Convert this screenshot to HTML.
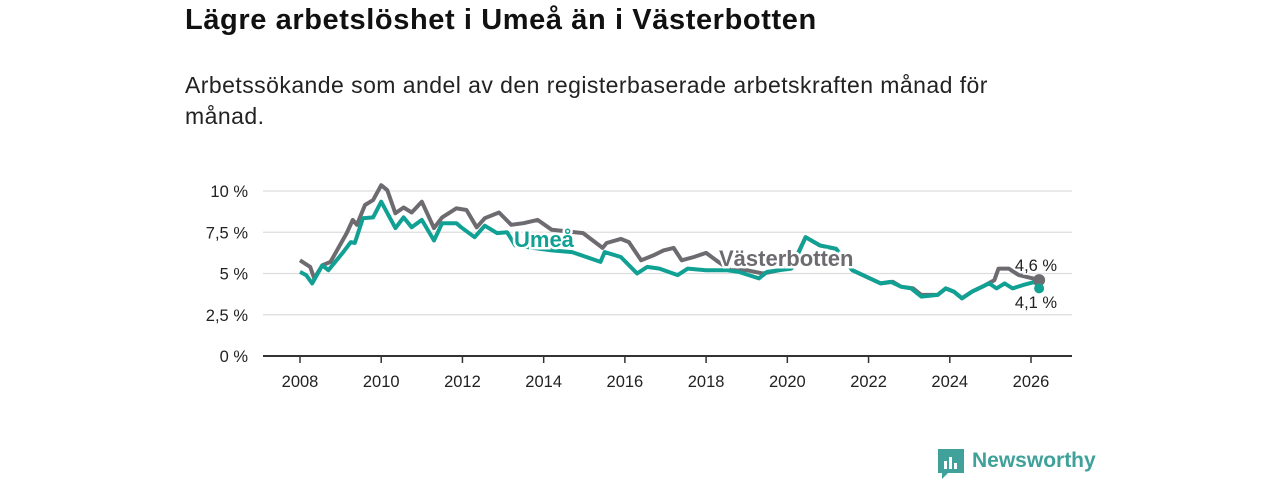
<!DOCTYPE html>
<html><head><meta charset="utf-8"><style>
body{margin:0;width:1280px;height:480px;background:#fff;font-family:"Liberation Sans","DejaVu Sans",sans-serif;overflow:hidden;position:relative}
#title{position:absolute;left:185px;top:4px;font-size:29px;letter-spacing:0.6px;font-weight:bold;color:#111;white-space:nowrap}
#sub{position:absolute;left:185px;top:70px;width:835px;font-size:23px;letter-spacing:0.45px;line-height:31px;color:#222}
svg{position:absolute;left:0;top:0}
</style></head><body>
<div id="title">Lägre arbetslöshet i Umeå än i Västerbotten</div>
<div id="sub">Arbetssökande som andel av den registerbaserade arbetskraften månad för månad.</div>
<svg id="chart" width="1280" height="480"></svg>
<script>
const yTicks=[0,2.5,5,7.5,10];
const yTickLabels=["0 %","2,5 %","5 %","7,5 %","10 %"];
const xTicks=[2008,2010,2012,2014,2016,2018,2020,2022,2024,2026];
const vbDates=[2008.0,2008.25,2008.35,2008.55,2008.75,2009.15,2009.3,2009.4,2009.6,2009.8,2010.0,2010.15,2010.35,2010.55,2010.75,2011.0,2011.3,2011.5,2011.85,2012.1,2012.35,2012.55,2012.9,2013.2,2013.5,2013.85,2014.2,2014.97,2015.45,2015.55,2015.9,2016.1,2016.4,2016.7,2016.95,2017.2,2017.4,2017.7,2018.0,2018.3,2018.6,2019.0,2019.4,2019.8,2020.1,2020.45,2020.8,2021.2,2021.6,2022.3,2022.6,2022.8,2023.1,2023.3,2023.7,2023.9,2024.1,2024.3,2024.55,2024.8,2025.1,2025.2,2025.45,2025.7,2026.05,2026.2];
const vbVals=[5.8,5.4,4.7,5.5,5.7,7.45,8.25,7.95,9.15,9.45,10.35,10.05,8.65,9.0,8.7,9.35,7.75,8.4,8.95,8.85,7.8,8.35,8.7,7.95,8.05,8.25,7.65,7.45,6.55,6.85,7.1,6.9,5.8,6.1,6.4,6.55,5.8,6.0,6.25,5.7,5.2,5.2,5.0,5.2,5.4,7.2,6.7,6.5,5.2,4.4,4.5,4.2,4.1,3.7,3.7,4.1,3.9,3.5,3.9,4.2,4.6,5.3,5.3,4.9,4.7,4.6];
const umDates=[2008.0,2008.15,2008.3,2008.55,2008.7,2009.05,2009.25,2009.35,2009.55,2009.8,2010.0,2010.35,2010.55,2010.75,2011.0,2011.3,2011.5,2011.85,2011.97,2012.3,2012.55,2012.85,2013.1,2013.3,2013.6,2014.2,2014.7,2015.4,2015.5,2015.9,2016.3,2016.55,2016.85,2017.3,2017.55,2018.0,2018.5,2018.8,2019.3,2019.5,2019.8,2020.1,2020.45,2020.8,2021.2,2021.6,2022.3,2022.55,2022.8,2023.05,2023.3,2023.7,2023.9,2024.1,2024.3,2024.55,2024.8,2024.97,2025.15,2025.35,2025.55,2025.8,2026.1,2026.2];
const umVals=[5.1,4.9,4.4,5.5,5.2,6.25,6.9,6.85,8.35,8.4,9.35,7.75,8.4,7.8,8.25,7.0,8.05,8.05,7.8,7.2,7.9,7.45,7.5,6.7,6.6,6.4,6.3,5.7,6.3,6.0,5.0,5.4,5.3,4.9,5.3,5.2,5.2,5.1,4.7,5.1,5.2,5.3,7.2,6.7,6.5,5.2,4.4,4.5,4.2,4.1,3.6,3.7,4.1,3.9,3.5,3.9,4.2,4.4,4.1,4.4,4.1,4.3,4.5,4.1];
const svg=document.getElementById('chart');const NS='http://www.w3.org/2000/svg';
const X=v=>300+(v-2008)*(1031-300)/18;const Y=v=>356-v*16.5;
function mk(t,a){const e=document.createElementNS(NS,t);for(const k in a)e.setAttribute(k,a[k]);svg.appendChild(e);return e;}
yTicks.forEach((t,i)=>{
 const g=mk('line',{x1:263,x2:1072,y1:Y(t),y2:Y(t),stroke:i==0?'#333':'#ddd','stroke-width':i==0?2:1.2});
 
 
 const l=mk('text',{x:248,y:Y(t)+6,'text-anchor':'end','font-size':16.5,fill:'#222'});l.textContent=yTickLabels[i];
 
 
});
xTicks.forEach(t=>{
 const m=mk('line',{x1:X(t),x2:X(t),y1:356,y2:363,stroke:'#333','stroke-width':1.5});
 
 
 const l=mk('text',{x:X(t),y:387,'text-anchor':'middle','font-size':16.5,fill:'#222'});l.textContent=t;
 
 
});
function line(d,v,c,name){const p=mk('path',{d:d.map((x,i)=>(i?'L':'M')+X(x).toFixed(1)+','+Y(v[i]).toFixed(1)).join(''),fill:'none',stroke:c,'stroke-width':4,'stroke-linejoin':'round'});
 
 }
line(vbDates,vbVals,'#6d6b70','vasterbotten-line');
line(umDates,umVals,'#11a194','umea-line');
function lab(x,y,t,c,name,w,sz,anc){const e=mk('text',{x:x,y:y,fill:c,'font-size':sz,'font-weight':w,stroke:'#fff','stroke-width':w=='bold'?5:3,'paint-order':'stroke','text-anchor':anc||'start'});e.textContent=t;
 
 }
lab(514,247,'Umeå','#11a194','umea-label','bold',22);
lab(719,266,'Västerbotten','#6d6b70','vasterbotten-label','bold',22);
const n=vbDates.length-1,m=umDates.length-1;
const d1=mk('circle',{cx:X(vbDates[n]),cy:Y(vbVals[n]),r:6,fill:'#6d6b70'});


const d2=mk('circle',{cx:X(umDates[m]),cy:Y(umVals[m]),r:5,fill:'#11a194'});


lab(1036,271,vbVals[n].toFixed(1).replace('.',',')+' %','#222','vasterbotten-end-value','normal',16.5,'middle');
lab(1036,308,umVals[m].toFixed(1).replace('.',',')+' %','#222','umea-end-value','normal',16.5,'middle');
</script>
<div style="position:absolute;left:938px;top:449px;">
<svg width="26" height="30" style="position:absolute;left:0;top:0"><path d="M0 0H26V24H10L4 30V24H0Z" fill="#3fa199"/><rect x="6" y="12" width="3" height="8" fill="#fff"/><rect x="11" y="8" width="3" height="12" fill="#fff"/><rect x="16" y="14" width="3" height="6" fill="#fff"/></svg>
<span style="position:absolute;left:34px;top:0;font-size:21px;font-weight:bold;color:#3fa199;white-space:nowrap">Newsworthy</span></div>
</body></html>
